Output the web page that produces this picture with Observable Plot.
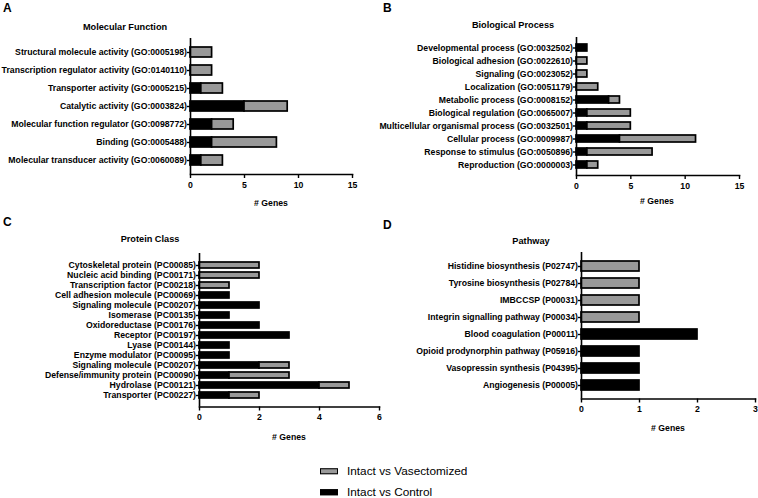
<!DOCTYPE html>
<html>
<head>
<meta charset="utf-8">
<script src="https://cdn.jsdelivr.net/npm/d3@7"></script>
<script src="https://cdn.jsdelivr.net/npm/@observablehq/plot@0.6"></script>
<style>
  html, body { margin: 0; padding: 0; background: #fff; }
  #root { position: relative; width: 758px; height: 498px; background: #fff; overflow: hidden;
          font-family: "Liberation Sans", Arial, sans-serif; color: #000; }
  .abs { position: absolute; white-space: nowrap; }
  .ctr { transform: translate(-50%, -50%); }
  .letter { font-weight: bold; font-size: 12px; }
  .title { font-weight: bold; font-size: 9.2px; }
  .axt { font-weight: bold; font-size: 8.7px; }
  .leg { font-size: 11.8px; transform: translateY(-50%); }
  .sw { position: absolute; width: 16px; height: 3.5px; border: 1.4px solid #000; transform: translateY(-50%); }
</style>
</head>
<body>
<div id="root"></div>
<script>
// ---------- data ----------
const seriesNames = ["Intact vs Control", "Intact vs Vasectomized"];
const seriesColors = ["#000000", "#999999"];

const mfLabels = ["Structural molecule activity (GO:0005198)", "Transcription regulator activity (GO:0140110)", "Transporter activity (GO:0005215)", "Catalytic activity (GO:0003824)", "Molecular function regulator (GO:0098772)", "Binding (GO:0005488)", "Molecular transducer activity (GO:0060089)"];
const mfControl = [0, 0, 1, 5, 2, 2, 1];
const mfVasect  = [2, 2, 2, 4, 2, 6, 2];
const mfTicks = [0, 5, 10, 15];

const bpLabels = ["Developmental process (GO:0032502)", "Biological adhesion (GO:0022610)", "Signaling (GO:0023052)", "Localization (GO:0051179)", "Metabolic process (GO:0008152)", "Biological regulation (GO:0065007)", "Multicellular organismal process (GO:0032501)", "Cellular process (GO:0009987)", "Response to stimulus (GO:0050896)", "Reproduction (GO:0000003)"];
const bpControl = [1, 0, 0, 0, 3, 1, 1, 4, 1, 1];
const bpVasect  = [0, 1, 1, 2, 1, 4, 4, 7, 6, 1];
const bpTicks = [0, 5, 10, 15];

const pcLabels = ["Cytoskeletal protein (PC00085)", "Nucleic acid binding (PC00171)", "Transcription factor (PC00218)", "Cell adhesion molecule (PC00069)", "Signaling molecule (PC00207)", "Isomerase (PC00135)", "Oxidoreductase (PC00176)", "Receptor (PC00197)", "Lyase (PC00144)", "Enzyme modulator (PC00095)", "Signaling molecule (PC00207)", "Defense/immunity protein (PC00090)", "Hydrolase (PC00121)", "Transporter (PC00227)"];
const pcControl = [0, 0, 0, 1, 2, 1, 2, 3, 1, 1, 2, 1, 4, 1];
const pcVasect  = [2, 2, 1, 0, 0, 0, 0, 0, 0, 0, 1, 2, 1, 1];
const pcTicks = [0, 2, 4, 6];

const pwLabels = ["Histidine biosynthesis (P02747)", "Tyrosine biosynthesis (P02784)", "IMBCCSP (P00031)", "Integrin signalling pathway (P00034)", "Blood coagulation (P00011)", "Opioid prodynorphin pathway (P05916)", "Vasopressin synthesis (P04395)", "Angiogenesis (P00005)"];
const pwControl = [0, 0, 0, 0, 2, 1, 1, 1];
const pwVasect  = [1, 1, 1, 1, 0, 0, 0, 0];
const pwTicks = [0, 1, 2, 3];

const root = document.getElementById("root");

function addText(cls, txt, x, y, center = true) {
  const d = document.createElement("div");
  d.className = "abs " + cls + (center ? " ctr" : "");
  d.textContent = txt;
  d.style.left = x + "px";
  d.style.top = y + "px";
  root.appendChild(d);
  return d;
}

function panel(cfg) {
  const rows = [];
  cfg.labels.forEach((l, i) => {
    if (cfg.control[i] > 0) rows.push({k: i, s: seriesNames[0], v: cfg.control[i]});
    if (cfg.vasect[i] > 0) rows.push({k: i, s: seriesNames[1], v: cfg.vasect[i]});
  });
  const xMax = cfg.ticks[cfg.ticks.length - 1];
  const chart = Plot.plot({
    width: cfg.width,
    height: cfg.height,
    marginTop: cfg.mt, marginBottom: cfg.mb, marginLeft: cfg.ml, marginRight: cfg.mr,
    style: {fontFamily: "'Liberation Sans', Arial, sans-serif", fontSize: "8.7px", fontWeight: "bold", overflow: "visible", background: "transparent"},
    x: {domain: [0, xMax], label: null},
    y: {domain: d3.range(cfg.labels.length), padding: cfg.pad, label: null},
    color: {domain: seriesNames, range: seriesColors},
    marks: [
      Plot.barX(rows, {x: "v", y: "k", fill: "s", order: seriesNames, stroke: "#000", strokeWidth: 1.7}),
      Plot.ruleX([0], {strokeWidth: 1.6}),
      Plot.frame({anchor: "bottom", strokeWidth: 1.6}),
      Plot.axisY({tickSize: 3, tickPadding: 0.5, strokeWidth: 1.4, label: null, tickFormat: i => cfg.labels[i]}),
      Plot.axisX({ticks: cfg.ticks, tickSize: 4, tickPadding: 3, strokeWidth: 1.4, label: null, tickFormat: d3.format("d")})
    ]
  });
  chart.style.position = "absolute";
  chart.style.left = cfg.left + "px";
  chart.style.top = cfg.top + "px";
  root.appendChild(chart);
}

panel({labels: mfLabels, control: mfControl, vasect: mfVasect, ticks: mfTicks,
  left: 0, top: 0, width: 379, height: 215, mt: 38, mb: 41, ml: 190, mr: 27, pad: 0.42});
panel({labels: bpLabels, control: bpControl, vasect: bpVasect, ticks: bpTicks,
  left: 380, top: 0, width: 378, height: 215, mt: 37, mb: 40, ml: 196, mr: 19, pad: 0.46});
panel({labels: pcLabels, control: pcControl, vasect: pcVasect, ticks: pcTicks,
  left: 0, top: 215, width: 385, height: 230, mt: 38, mb: 38.5, ml: 199, mr: 6, pad: 0.45});
panel({labels: pwLabels, control: pwControl, vasect: pwVasect, ticks: pwTicks,
  left: 380, top: 215, width: 378, height: 230, mt: 37, mb: 46.5, ml: 201, mr: 3, pad: 0.43});

// panel letters and titles
addText("letter", "A", 3, 1, false);
addText("letter", "B", 383, 1, false);
addText("letter", "C", 3, 215, false);
addText("letter", "D", 383, 218, false);
addText("title", "Molecular Function", 125, 27);
addText("title", "Biological Process", 513, 25);
addText("title", "Protein Class", 150, 239);
addText("title", "Pathway", 531, 241);
addText("axt", "# Genes", 271, 203);
addText("axt", "# Genes", 657, 201);
addText("axt", "# Genes", 289, 437);
addText("axt", "# Genes", 668, 428);

// legend
[[seriesNames[1], seriesColors[1], 471], [seriesNames[0], seriesColors[0], 492]].forEach(([name, col, y]) => {
  const sw = document.createElement("div");
  sw.className = "sw";
  sw.style.left = "320px";
  sw.style.top = y + "px";
  sw.style.background = col;
  root.appendChild(sw);
  addText("leg", name, 347, y, false);
});
</script>
</body>
</html>
